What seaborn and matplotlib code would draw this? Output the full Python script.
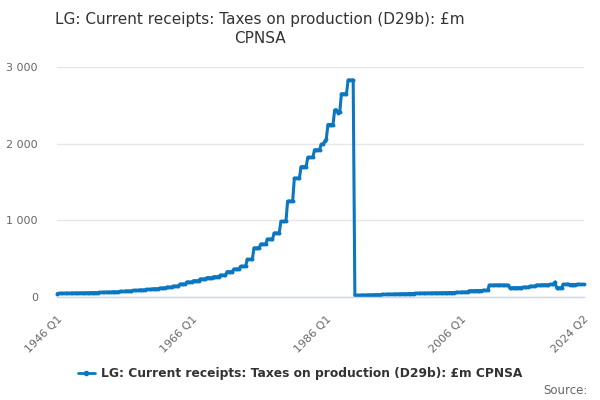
import numpy as np
import pandas as pd
import matplotlib
matplotlib.use("Agg")
import matplotlib.pyplot as plt
from matplotlib.lines import Line2D
from matplotlib.ticker import FuncFormatter
import seaborn as sns

# ---- data (financial years: FY Y covers Y Q2 .. Y+1 Q1) ----
fiscal_years = list(range(1945, 2025))
fy_values = [
    45, 47, 49, 51, 53, 55, 57, 60, 63, 67,
    72, 78, 85, 92, 99, 107, 117, 128, 142, 168,
    195, 212, 235, 252, 265, 285, 330, 365, 400, 490,
    640, 690, 755, 835, 985, 1250, 1550, 1700, 1820, 1920,
    1990, 2250, 2440, 2650, 2830, 21, 24, 27, 30, 33,
    36, 39, 42, 45, 48, 50, 52, 54, 56, 58,
    60, 65, 82, 84, 86, 155, 157, 155, 121, 122,
    128, 140, 156, 160, 164, 121, 165, 163, 164, 164,
]
override_quarters = ["1985 Q4", "1986 Q1", "1987 Q4", "1988 Q1", "2020 Q1"]
override_values = [2030, 2060, 2400, 2410, 196]
first_year = 1946
last_quarter = "2024 Q2"
tick_labels = ["1946 Q1", "1966 Q1", "1986 Q1", "2006 Q1", "2024 Q2"]
series_name = "LG: Current receipts: Taxes on production (D29b): £m CPNSA"
title = "LG: Current receipts: Taxes on production (D29b): £m\nCPNSA"

# ---- build quarterly table ----
fy_map = dict(zip(fiscal_years, fy_values))
quarters, values = [], []
y = first_year
done = False
while not done:
    for q in range(1, 5):
        lab = f"{y} Q{q}"
        fy = y - 1 if q == 1 else y
        quarters.append(lab)
        values.append(fy_map[fy])
        if lab == last_quarter:
            done = True
            break
    y += 1
ov = dict(zip(override_quarters, override_values))
values = [ov.get(q, v) for q, v in zip(quarters, values)]
df = pd.DataFrame({"quarter": quarters, "value": values})
df["pos"] = np.arange(len(df))

# ---- plot ----
sns.set_theme(style="white")
plt.rcParams["font.family"] = ["DejaVu Sans"]
color = "#0a77c0"

fig = plt.figure(figsize=(6, 4), dpi=100)
ax = fig.add_axes([0.0955, 0.2575, 0.877, 0.575])
sns.lineplot(data=df, x="pos", y="value", ax=ax, color=color, linewidth=2.2,
             marker="o", markersize=2.8, markeredgewidth=0, clip_on=False)

n = len(df)
ax.set_xlim(0, n - 1)
ax.set_ylim(0, 3000)
ax.set_yticks([0, 1000, 2000, 3000])
ax.yaxis.set_major_formatter(FuncFormatter(lambda v, p: f"{int(v):,}".replace(",", " ")))
ax.grid(axis="y", color="#e6e6e6", linewidth=1)
ax.set_axisbelow(True)

tick_pos = list(range(0, n, 20))
if n - 1 not in tick_pos:
    tick_pos.append(n - 1)
labels = [q if q in tick_labels else "" for q in df["quarter"].iloc[tick_pos]]
ax.set_xticks(tick_pos)
ax.set_xticklabels(labels, rotation=45, ha="right", rotation_mode="anchor")
ax.tick_params(axis="x", length=10, width=1, color="#ccd6eb", labelsize=8, pad=2)
ax.tick_params(axis="y", length=0, labelsize=8, pad=14)
for lab in ax.get_xticklabels() + ax.get_yticklabels():
    lab.set_color("#666666")
ax.set_xlabel("")
ax.set_ylabel("")
for s in ["top", "right", "left"]:
    ax.spines[s].set_visible(False)
ax.spines["bottom"].set_color("#ccd6eb")
ax.spines["bottom"].set_linewidth(1)

fig.text(0.433, 0.928, title, ha="center", va="center", fontsize=11,
         color="#333333", linespacing=1.35)

handle = Line2D([], [], color=color, linewidth=2, marker="o", markersize=3)
fig.legend([handle], [series_name], loc="center", bbox_to_anchor=(0.5, 1 - 374 / 400),
           frameon=False, prop={"weight": "bold", "size": 8.8}, handlelength=1.4,
           handletextpad=0.5, labelcolor="#333333")
fig.text(0.98, 1 - 390 / 400, "Source:", ha="right", va="center", fontsize=8.5,
         color="#666666")

fig.savefig("out.png", dpi=100)
